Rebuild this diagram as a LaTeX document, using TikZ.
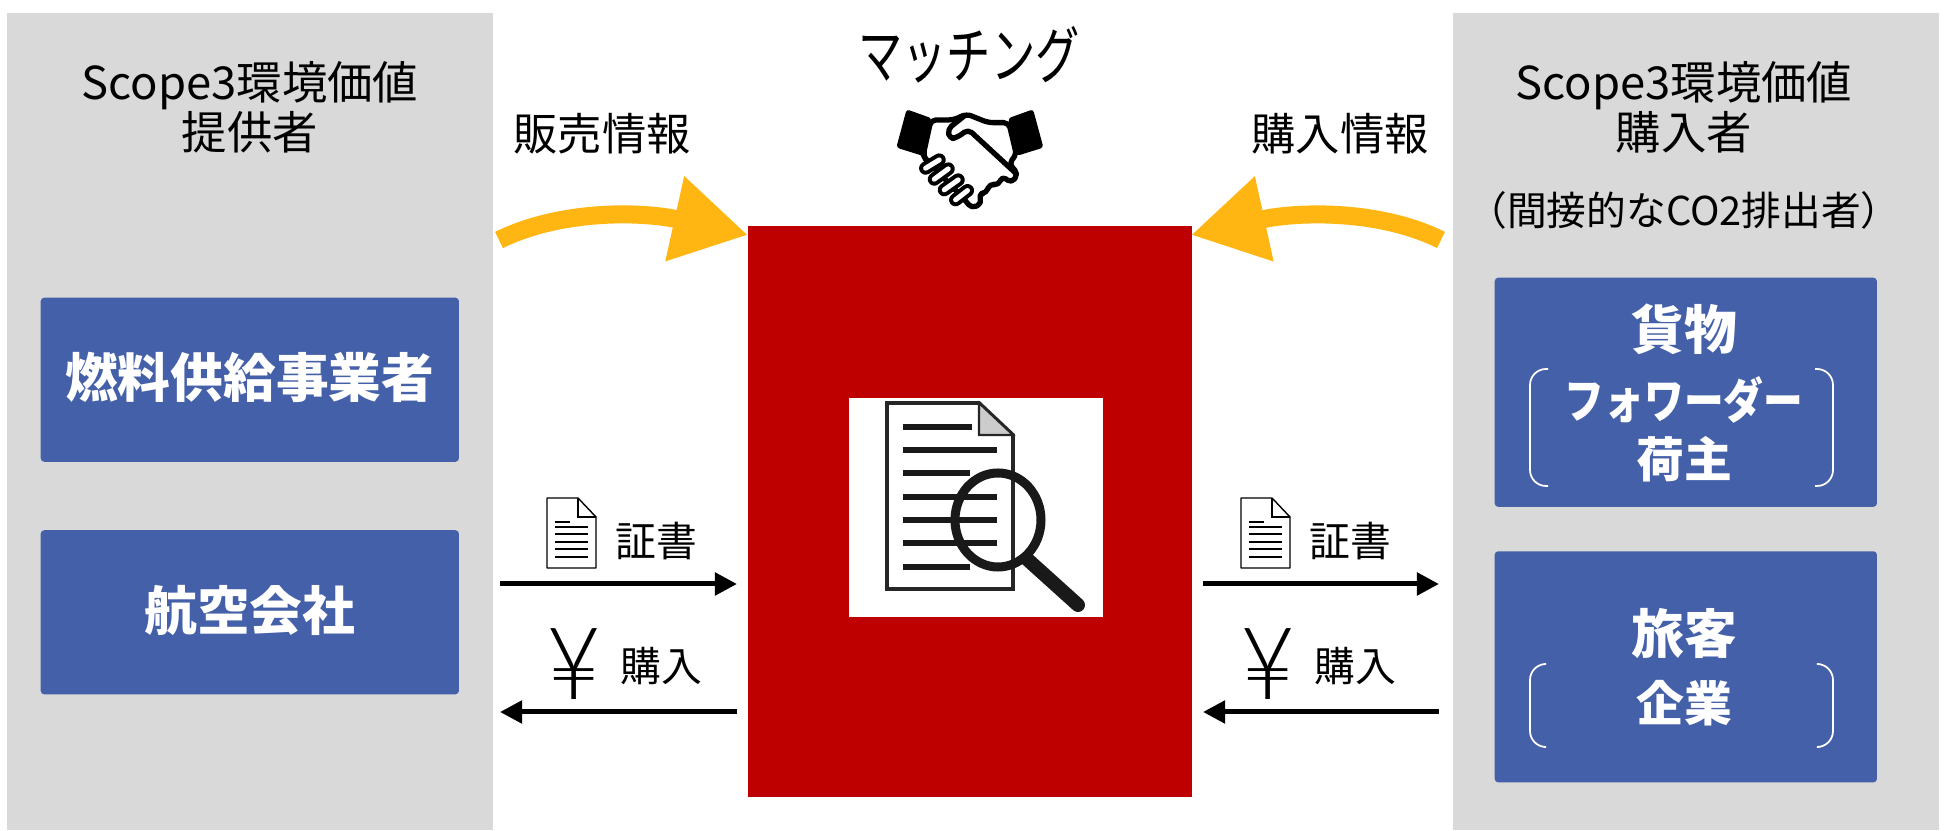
\documentclass[tikz,border=0pt]{standalone}
\usepackage{fontspec}
\setmainfont{Noto Sans CJK JP}
\newfontfamily\yenfont{Lato Light}
\usepackage{xcolor}
\usetikzlibrary{arrows.meta, positioning, calc}
\definecolor{panelgray}{HTML}{D9D9D9}
\definecolor{boxblue}{HTML}{4460A9}
\definecolor{matchred}{HTML}{BE0000}
\definecolor{flowgold}{HTML}{FFB612}

\begin{document}
\begin{tikzpicture}[
    x=0.01cm, y=-0.01cm,
    panel/.style={
        rectangle, fill=panelgray, minimum width=4.86cm,
        minimum height=8.17cm, inner sep=0pt, anchor=north west
    },
    party/.style={
        rectangle, rounded corners=1pt, fill=boxblue, inner sep=0pt,
        minimum width=4.18cm, minimum height=1.64cm, anchor=north west
    },
    partylabel/.style={font=\fontsize{15pt}{17pt}\selectfont\bfseries, text=white, inner sep=0pt},
    sublabel/.style={font=\fontsize{13.6pt}{16pt}\selectfont\bfseries, text=white, inner sep=0pt},
    title/.style={font=\fontsize{12.9pt}{14.3pt}\selectfont, align=center, inner sep=0pt},
    caption/.style={font=\fontsize{12.6pt}{14.4pt}\selectfont, inner sep=0pt},
    small/.style={font=\fontsize{11.6pt}{13pt}\selectfont, inner sep=0pt},
    flow/.style={-{Triangle[length=0.22cm, width=0.22cm]}, line width=0.05cm, black},
    info/.style={-{Triangle[length=0.75cm, width=0.82cm]}, line width=0.18cm, flowgold},
    bracket/.style={draw=white, line width=0.5pt, rounded corners=0.16cm},
    capsule/.style={line cap=round, line width=0.13cm}
]
\useasboundingbox (0,0) rectangle (1950,831);

% Side panels
\node[panel] (seller) at (6,12) {};
\node[panel] (buyer) at (1452,12) {};
\node[title] (sellertitle) at (250,107) {Scope3環境価値\\提供者};
\node[title] (buyertitle) at (1684,107) {Scope3環境価値\\購入者};
\node[font=\fontsize{11.3pt}{12pt}\selectfont, inner sep=0pt] (buyernote) at (1684,210) {（間接的なCO2排出者）};

% Party boxes
\node[party] (fuel) at (40,297) {};
\node[party, below=0.67cm of fuel] (airline) {};
\node[party, minimum width=3.82cm, minimum height=2.29cm] (cargo) at (1494,277) {};
\node[party, minimum width=3.82cm, minimum height=2.31cm, below=0.43cm of cargo] (travel) {};

\node[partylabel] at ([yshift=0.02cm]fuel) (fuellabel) {燃料供給事業者};
\node[partylabel] at ([yshift=0.02cm]airline) (airlinelabel) {航空会社};
\node[partylabel] (cargolabel) at (1684,329) {貨物};
\node[sublabel, xscale=0.83, transform shape] (fwdlabel) at (1684,400) {フォワーダー};
\node[sublabel] (shipperlabel) at (1684,459) {荷主};
\node[partylabel] (travellabel) at (1684,634) {旅客};
\node[sublabel] (firmlabel) at (1684,703) {企業};

% Brackets
\draw[bracket] (1548,369) -- (1530,369) -- (1530,486) -- (1548,486);
\draw[bracket] (1815,369) -- (1833,369) -- (1833,486) -- (1815,486);
\draw[bracket] (1544,664) -- (1530,664) -- (1530,747) -- (1544,747);
\draw[bracket] (1819,664) -- (1833,664) -- (1833,747) -- (1819,747);

% Matching block
\node[rectangle, fill=matchred, minimum width=4.44cm, minimum height=5.71cm,
      inner sep=0pt, anchor=north west] (matcher) at (747,225) {};
\node[font=\fontsize{12.6pt}{14pt}\selectfont, yscale=1.4, transform shape, inner sep=0pt]
      (matchlabel) at (969,55) {マッチング};
\node[caption] (selllabel) at (602,134) {販売情報};
\node[caption] (buylabel) at (1340,134) {購入情報};

% Information arrows
\coordinate (sellstart) at (499,240);
\coordinate (selltip) at (748,235);
\coordinate (buystart) at (1441,240);
\coordinate (buytip) at (1191,235);
\draw[info] (sellstart) .. controls (560,210) and (640,211) .. (selltip);
\draw[info] (buystart) .. controls (1381,210) and (1300,211) .. (buytip);

% Certificate and payment arrows
\coordinate (certL) at (500,584);
\coordinate (certM) at (737,584);
\coordinate (certN) at (1203,584);
\coordinate (certR) at (1439,584);
\coordinate (payL) at (500,712);
\coordinate (payM) at (737,712);
\coordinate (payN) at (1203,712);
\coordinate (payR) at (1439,712);
\draw[flow] (certL) -- (certM);
\draw[flow] (certN) -- (certR);
\draw[flow] (payM) -- (payL);
\draw[flow] (payR) -- (payN);

% Small icons and their labels
\foreach \dx/\tag in {0/a, 694/b} {
  \node[small] (cert\tag) at (656+\dx,541) {証書};
  \node[small] (buy\tag) at (661+\dx,666) {購入};
  \node[font=\yenfont\fontsize{28.5pt}{30pt}\selectfont, xscale=0.95, transform shape, inner sep=0pt] (yen\tag) at (574+\dx,664) {¥};
  \draw[black, line width=0.4pt, fill=white, line join=round]
    (547+\dx,498) -- (578+\dx,498) -- (596+\dx,517) -- (596+\dx,568) -- (547+\dx,568) -- cycle;
  \draw[black, line width=0.4pt] (578+\dx,498) -- (578+\dx,517) -- (596+\dx,517);
  \draw[black, line width=0.4pt] (555+\dx,522) -- (570+\dx,522);
  \foreach \ly in {527,534,542,549,557} {
    \draw[black, line width=0.4pt] (555+\dx,\ly) -- (588+\dx,\ly);
  }
}

% Document with magnifier
\node[rectangle, fill=white, minimum width=2.54cm, minimum height=2.19cm,
      inner sep=0pt, anchor=north west] (iconback) at (848,397) {};
\draw[black!85, line width=1.1pt, fill=white]
  (887,403) -- (979,403) -- (1013,435) -- (1013,589) -- (887,589) -- cycle;
\draw[black!85, line width=0.6pt, fill=gray!40] (979,403) -- (979,435) -- (1013,435) -- cycle;
\draw[black!90, line width=1.5pt] (903,427) -- (972,427);
\foreach \ly/\lx in {450/997, 473/970, 497/997, 520/997, 543/997, 567/970} {
  \draw[black!90, line width=1.5pt] (903,\ly) -- (\lx,\ly);
}
\draw[black!90, line width=0.14cm, line cap=round] (1027,559) -- (1078,605);
\draw[black!90, line width=0.09cm] (998,520) ellipse [x radius=43, y radius=47];

% Handshake
\begin{scope}[shift={(885,100)}, x=0.00333cm, y=-0.00333cm]
  \fill[black, rounded corners=0.03cm] (65,28) -- (140,55) -- (114,168) -- (34,143) -- cycle;
  \fill[black, rounded corners=0.03cm] (445,28) -- (370,55) -- (396,168) -- (476,143) -- cycle;
  \draw[black, line width=1.5pt, fill=white, line join=round, rounded corners=0.05cm]
    (138,60) -- (205,60) -- (245,42) -- (310,68) -- (372,68) -- (395,165) -- (372,190)
    -- (400,222) -- (380,250) -- (352,228) -- (340,258) -- (315,250) -- (305,280) -- (280,282)
    -- (292,310) -- (260,326) -- (240,300) -- (120,175) -- (115,165) -- cycle;
  \draw[black, line width=1.5pt, fill=white, line join=round, line cap=round, rounded corners=0.05cm]
    (238,48) -- (188,88) -- (195,118) -- (218,112) -- (250,88) -- (395,222);
  \foreach \ax/\ay/\bx/\by in {122/205/163/180, 148/238/190/207, 178/270/220/240, 212/300/248/272} {
    \draw[black, capsule] (\ax,\ay) -- (\bx,\by);
    \draw[white, capsule, line width=0.05cm] (\ax,\ay) -- (\bx,\by);
  }
\end{scope}
\end{tikzpicture}
\end{document}
